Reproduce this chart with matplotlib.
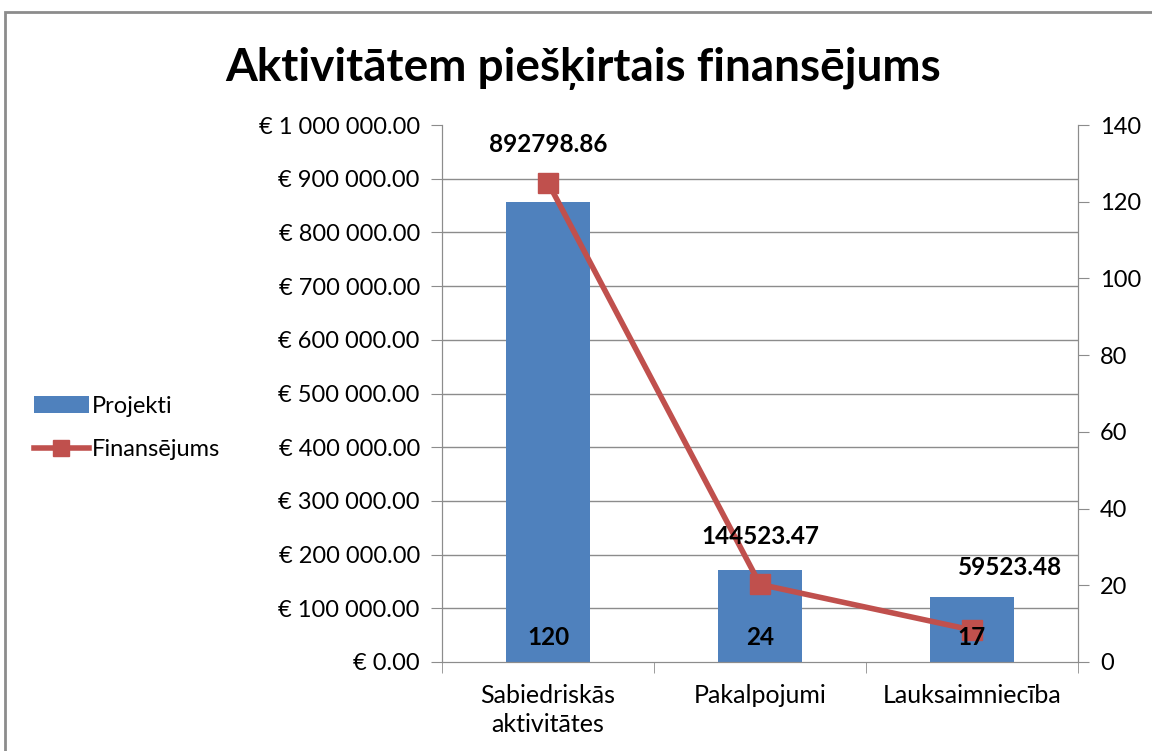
import numpy as np
import matplotlib.pyplot as plt
from matplotlib.ticker import FuncFormatter
from matplotlib.lines import Line2D
from matplotlib.patches import Patch, Rectangle

plt.rcParams['font.family'] = ['Lato', 'DejaVu Sans']

# Data
categories = ['Sabiedriskās\naktivitātes', 'Pakalpojumi', 'Lauksaimniecība']
projekti = [120, 24, 17]
finansejums = [892798.86, 144523.47, 59523.48]
fin_labels = ['892798.86', '144523.47', '59523.48']

bar_color = '#4F81BD'
line_color = '#C0504D'
grid_color = '#8C8C8C'

fig = plt.figure(figsize=(11.52, 7.51), dpi=100)
W, H = 1152, 751

# outer chart border
fig.patches.append(Rectangle((5 / W, -0.01), 1.2, (H - 12) / H + 0.01,
                             transform=fig.transFigure, fill=False,
                             edgecolor='#8C8C8C', linewidth=2))

ax = fig.add_axes([442 / W, 1 - 662 / H, (1078 - 442) / W, (662 - 125) / H])
x = np.arange(len(categories))

# bars on the right axis (0-140)
ax.bar(x, projekti, width=0.4, color=bar_color, zorder=2)
ax.set_xlim(-0.5, 2.5)
ax.set_ylim(0, 140)
ax.set_yticks(np.arange(0, 141, 20))
ax.set_yticks(np.arange(0, 141, 14), minor=True)
ax.grid(axis='y', which='minor', color=grid_color, linewidth=1, zorder=0)
ax.set_axisbelow(True)
ax.set_xticks([-0.5, 0.5, 1.5, 2.5], minor=True)
ax.set_xticks(x)
ax.set_xticklabels(categories, fontsize=18, linespacing=1.3)
ax.tick_params(axis='x', which='major', length=0, pad=16)
ax.tick_params(axis='x', which='minor', length=8, direction='out', color=grid_color)
for s in ax.spines.values():
    s.set_color(grid_color)
ax.spines['top'].set_visible(False)

# line on the left axis
ax2 = ax.twinx()
ax2.plot(x, finansejums, color=line_color, linewidth=4, marker='s',
         markersize=15, zorder=3)
ax2.set_ylim(0, 1000000)
ax2.yaxis.tick_left()
ax2.set_yticks(np.arange(0, 1000001, 100000))
ax2.yaxis.set_major_formatter(FuncFormatter(
    lambda v, p: '€ ' + f'{v:,.2f}'.replace(',', ' ')))
ax2.tick_params(axis='y', length=8, direction='out', color=grid_color,
                labelsize=17, pad=8)
for s in ax2.spines.values():
    s.set_color(grid_color)
ax2.spines['top'].set_visible(False)

ax.yaxis.tick_right()
ax.tick_params(axis='y', which='minor', length=0)
ax.tick_params(axis='y', which='major', length=8, direction='out', color=grid_color,
               labelsize=17, pad=8)

for xi, v in zip(x, projekti):
    ax2.text(xi, 6.5, str(v), ha='center', va='center', fontsize=17.5,
             fontweight='bold', zorder=5, transform=ax.transData)

offsets = [(0, 38), (0, 48), (38, 63)]
for xi, v, lab, off in zip(x, finansejums, fin_labels, offsets):
    ax2.annotate(lab, (xi, v), xytext=off, textcoords='offset pixels',
                 ha='center', va='center', fontsize=17.5, fontweight='bold')

fig.text(583 / W, 1 - 68 / H, 'Aktivitātem piešķirtais finansējums',
         ha='center', va='center', fontsize=33, fontweight='bold')

handles = [Patch(facecolor=bar_color, edgecolor='none'),
           Line2D([0], [0], color=line_color, linewidth=4, marker='s', markersize=12)]
fig.legend(handles, ['Projekti', 'Finansējums'], loc='center left',
           bbox_to_anchor=(13 / W, 1 - 428 / H), frameon=False, fontsize=17,
           handlelength=2.3, handletextpad=0.15, labelspacing=0.95)

fig.savefig('out.png', dpi=100)
